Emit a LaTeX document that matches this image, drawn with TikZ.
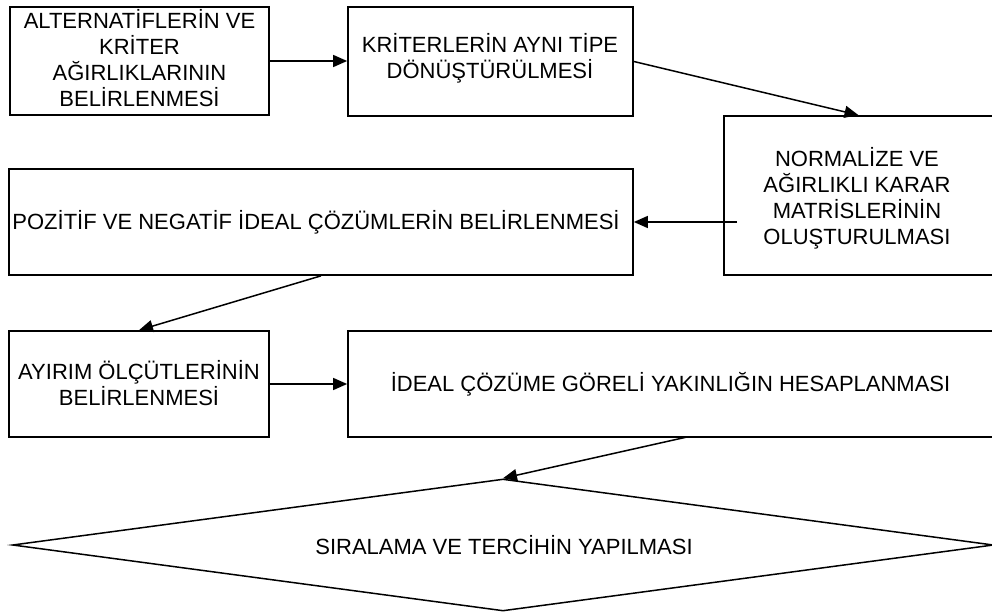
\documentclass[tikz,border=0pt]{standalone}
\usepackage{fontspec}
\setmainfont{Liberation Sans}
\usetikzlibrary{arrows.meta,shapes.geometric}
\begin{document}
\begin{tikzpicture}[x=1pt,y=-1pt,
  box/.style={draw,line width=1.7pt,rectangle,inner sep=0pt},
  lbl/.style={align=center,inner sep=0pt,font=\fontsize{22pt}{26pt}\selectfont},
  flow/.style={line width=1.5pt,-{Triangle[length=14pt,width=12pt]}}]
\useasboundingbox (0,0) rectangle (992,612);

% process boxes
\node[box,minimum width=259pt,minimum height=108pt] (b1) at (139.5,61) {};
\node[lbl] (t1) at (139.5,58) {ALTERNATİFLERİN VE\\KRİTER\\AĞIRLIKLARININ\\BELİRLENMESİ};

\node[box,minimum width=285pt,minimum height=109pt] (b2) at (490.5,61.5) {};
\node[lbl] (t2) at (490,58) {KRİTERLERİN AYNI TİPE\\DÖNÜŞTÜRÜLMESİ};

\node[box,minimum width=269pt,minimum height=159pt] (b3) at (858.5,195.5) {};
\node[lbl] (t3) at (857,198) {NORMALİZE VE\\AĞIRLIKLI KARAR\\MATRİSLERİNİN\\OLUŞTURULMASI};

\node[box,minimum width=624pt,minimum height=106pt] (b4) at (321,222) {};
\node[lbl] (t4) at (316,222) {POZİTİF VE NEGATİF İDEAL ÇÖZÜMLERİN BELİRLENMESİ};

\node[box,minimum width=260pt,minimum height=106pt] (b5) at (139,384) {};
\node[lbl] (t5) at (139,383) {AYIRIM ÖLÇÜTLERİNİN\\BELİRLENMESİ};

\node[box,minimum width=645pt,minimum height=106pt] (b6) at (670.5,384) {};
\node[lbl] (t6) at (670.5,384) {İDEAL ÇÖZÜME GÖRELİ YAKINLIĞIN HESAPLANMASI};

% final decision
\node[draw,line width=1.5pt,diamond,inner sep=0pt,minimum width=981pt,minimum height=132pt] (d) at (503,545) {};
\node[lbl] (td) at (504,545) {SIRALAMA VE TERCİHİN YAPILMASI};

% connectors
\coordinate (s3) at (737,222);
\coordinate (s6) at (687,437);
\draw[flow] (b1.east) -- (b1.east -| b2.west);
\draw[flow] (b2.east) -- (b3.north);
\draw[flow] (s3) -- (b4.east);
\draw[flow] (b4.south) -- (b5.north);
\draw[flow] (b5.east) -- (b6.west);
\draw[flow] (s6) -- (d.north);
\end{tikzpicture}
\end{document}
